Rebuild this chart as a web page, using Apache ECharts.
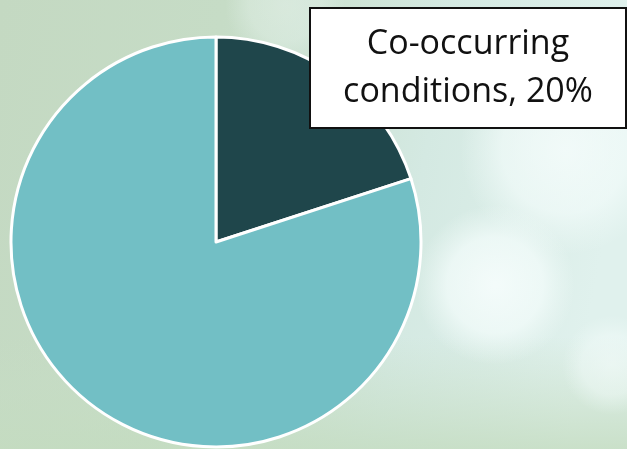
<!DOCTYPE html>
<html>
<head>
<meta charset="utf-8">
<script src="https://cdn.jsdelivr.net/npm/echarts@6/dist/echarts.min.js"></script>
<style>
html,body{margin:0;padding:0;width:627px;height:449px;overflow:hidden;}
#c{width:627px;height:449px;}
</style>
</head>
<body>
<div id="c"></div>
<script>
var categories = ['Co-occurring conditions', 'Other'];
var values = [20, 80];
var colors = ['#1f464b', '#72bfc5'];
var showLabel = [true, false];

var chart = echarts.init(document.getElementById('c'), null, {renderer: 'canvas'});

function bokeh(cx, cy, r, a) {
  return {
    type: 'circle', silent: true,
    shape: {cx: cx, cy: cy, r: r},
    style: {
      fill: {
        type: 'radial', x: 0.5, y: 0.5, r: 0.5,
        colorStops: [
          {offset: 0, color: 'rgba(250,255,255,' + a + ')'},
          {offset: 0.6, color: 'rgba(245,253,252,' + (a * 0.85) + ')'},
          {offset: 1, color: 'rgba(240,250,248,0)'}
        ]
      }
    }
  };
}

var option = {
  animation: false,
  graphic: [
    {
      type: 'rect', silent: true, z: -10,
      shape: {x: 0, y: 0, width: 627, height: 449},
      style: {
        fill: {
          type: 'linear', x: 0, y: 0, x2: 1, y2: 0.25,
          colorStops: [
            {offset: 0, color: '#c4d9c2'},
            {offset: 0.35, color: '#c6dcc6'},
            {offset: 0.7, color: '#d4e9e2'},
            {offset: 1, color: '#e0f1ed'}
          ]
        }
      }
    },
    {
      type: 'rect', silent: true, z: -9,
      shape: {x: 0, y: 0, width: 627, height: 449},
      style: {
        fill: {
          type: 'linear', x: 0, y: 0, x2: 0, y2: 1,
          colorStops: [
            {offset: 0, color: 'rgba(200,220,200,0)'},
            {offset: 0.75, color: 'rgba(200,222,198,0)'},
            {offset: 1, color: 'rgba(196,220,192,0.8)'}
          ]
        }
      }
    },
    Object.assign(bokeh(285, 5, 60, 0.3), {z: -8}),
    Object.assign(bokeh(565, 150, 105, 0.7), {z: -8}),
    Object.assign(bokeh(495, 285, 80, 0.8), {z: -8}),
    Object.assign(bokeh(612, 365, 50, 0.5), {z: -8})
  ],
  series: [{
    type: 'pie',
    center: [216, 242],
    radius: [0, 205],
    startAngle: 90,
    clockwise: true,
    silent: true,
    itemStyle: {borderColor: '#ffffff', borderWidth: 3},
    labelLine: {show: false},
    labelLayout: function (p) {
      return {x: 468, y: 68, align: 'center', verticalAlign: 'middle'};
    },
    data: categories.map(function (n, i) {
      return {
        name: n, value: values[i],
        itemStyle: {color: colors[i]},
        label: {
          show: showLabel[i],
          position: 'outside',
          formatter: function (p) {
            return p.name.replace(' ', '\n') + ', ' + Math.round(p.percent) + '%';
          },
          fontFamily: 'Open Sans, Noto Sans, sans-serif',
          fontSize: 34,
          lineHeight: 48,
          color: '#111111',
          align: 'center',
          backgroundColor: '#ffffff',
          borderColor: '#111111',
          borderWidth: 2,
          width: 310,
          padding: [11, 2, 11, 2]
        }
      };
    })
  }]
};
chart.setOption(option);
</script>
</body>
</html>
